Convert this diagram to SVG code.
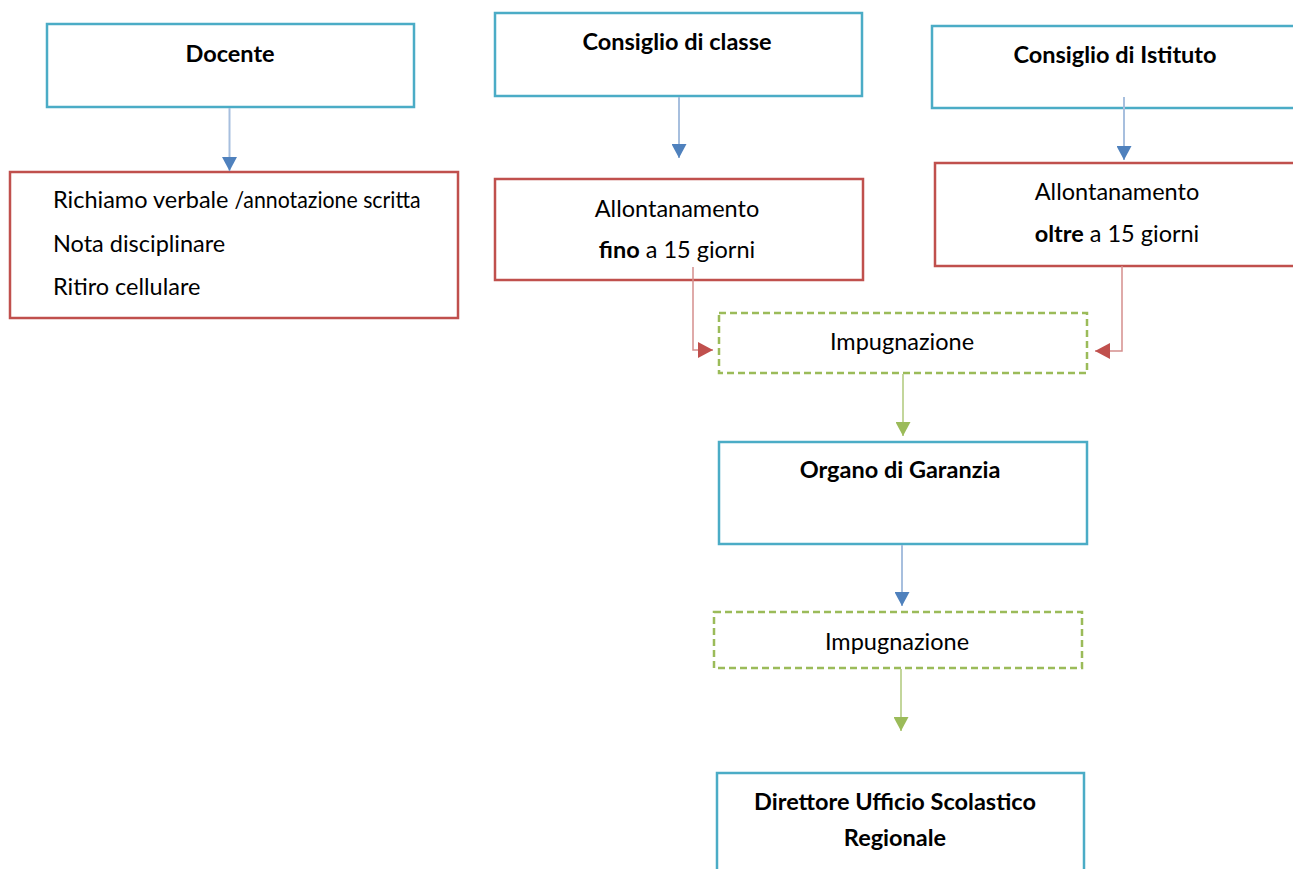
<svg xmlns="http://www.w3.org/2000/svg" width="1293" height="869" viewBox="0 0 1293 869">
<style>
.bx{fill:#fff;stroke:#4BACC6;stroke-width:2.5}
.rd{fill:#fff;stroke:#C0504D;stroke-width:2.5}
.gr{fill:#fff;stroke:#9BBB59;stroke-width:2.5;stroke-dasharray:7 4}
text{font-family:Lato,"Open Sans",sans-serif;font-size:23.5px;fill:#000}
.b{font-weight:bold}
.c{text-anchor:middle}
.lb{stroke:#A7BFDE;stroke-width:2;fill:none}
.lr{stroke:#D58F8D;stroke-width:1.5;fill:none}
.lg{stroke:#C3D69B;stroke-width:2;fill:none}
</style>
<defs>
<marker id="mb" markerUnits="userSpaceOnUse" markerWidth="15" markerHeight="15" refX="14" refY="7.5" orient="auto"><path d="M0,0 L14,7.5 L0,15 z" fill="#4F81BD"/></marker>
<marker id="mr" markerUnits="userSpaceOnUse" markerWidth="16" markerHeight="16" refX="15" refY="8" orient="auto"><path d="M0,0 L15,8 L0,16 z" fill="#C0504D"/></marker>
<marker id="mg" markerUnits="userSpaceOnUse" markerWidth="15" markerHeight="15" refX="14" refY="7.5" orient="auto"><path d="M0,0 L14,7.5 L0,15 z" fill="#9BBB59"/></marker>
</defs>
<g id="docente"><rect class="bx" x="47" y="24" width="367" height="83"/><text class="b c" x="230" y="62">Docente</text></g>
<g id="sanzioni-docente"><rect class="rd" x="10" y="172" width="448" height="146"/>
<text x="53" y="208">Richiamo verbale <tspan textLength="186" lengthAdjust="spacingAndGlyphs">/annotazione scritta</tspan></text>
<text x="53" y="252">Nota disciplinare</text>
<text x="53" y="295">Ritiro cellulare</text></g>
<g id="consiglio-classe"><rect class="bx" x="495" y="13" width="367" height="83"/><text class="b c" x="677" y="50">Consiglio di classe</text></g>
<g id="allontanamento-fino"><rect class="rd" x="495" y="179" width="368" height="101"/><text class="c" x="677" y="217">Allontanamento</text><text class="c" x="677" y="258"><tspan class="b">fino</tspan> a 15 giorni</text></g>
<g id="consiglio-istituto"><rect class="bx" x="932" y="26" width="380" height="82"/><text class="b c" x="1115" y="63">Consiglio di Istituto</text></g>
<g id="allontanamento-oltre"><rect class="rd" x="935" y="163" width="380" height="103"/><text class="c" x="1117" y="200">Allontanamento</text><text class="c" x="1117" y="242"><tspan class="b">oltre</tspan> a 15 giorni</text></g>
<g id="impugnazione1"><rect class="gr" x="719" y="313" width="368" height="60"/><text class="c" x="902" y="350">Impugnazione</text></g>
<g id="organo-garanzia"><rect class="bx" x="719" y="442" width="368" height="102"/><text class="b c" x="900" y="478">Organo di Garanzia</text></g>
<g id="impugnazione2"><rect class="gr" x="714" y="612" width="368" height="56"/><text class="c" x="897" y="650">Impugnazione</text></g>
<g id="direttore"><rect class="bx" x="717" y="773" width="367" height="120"/><text class="b c" x="895" y="810">Direttore Ufficio Scolastico</text><text class="b c" x="895" y="846">Regionale</text></g>
<g id="connectors">
<line class="lb" x1="229.5" y1="108" x2="229.5" y2="171" marker-end="url(#mb)"/>
<line class="lb" x1="679" y1="97" x2="679" y2="158" marker-end="url(#mb)"/>
<line class="lb" x1="1124" y1="97" x2="1124" y2="160" marker-end="url(#mb)"/>
<path class="lr" d="M693,267 V350 H713" marker-end="url(#mr)"/>
<path class="lr" d="M1122,266 V351 H1095" marker-end="url(#mr)"/>
<line class="lg" x1="903" y1="374" x2="903" y2="436" marker-end="url(#mg)"/>
<line class="lb" x1="902" y1="545" x2="902" y2="606" marker-end="url(#mb)"/>
<line class="lg" x1="901" y1="669" x2="901" y2="731" marker-end="url(#mg)"/>
</g>
</svg>
